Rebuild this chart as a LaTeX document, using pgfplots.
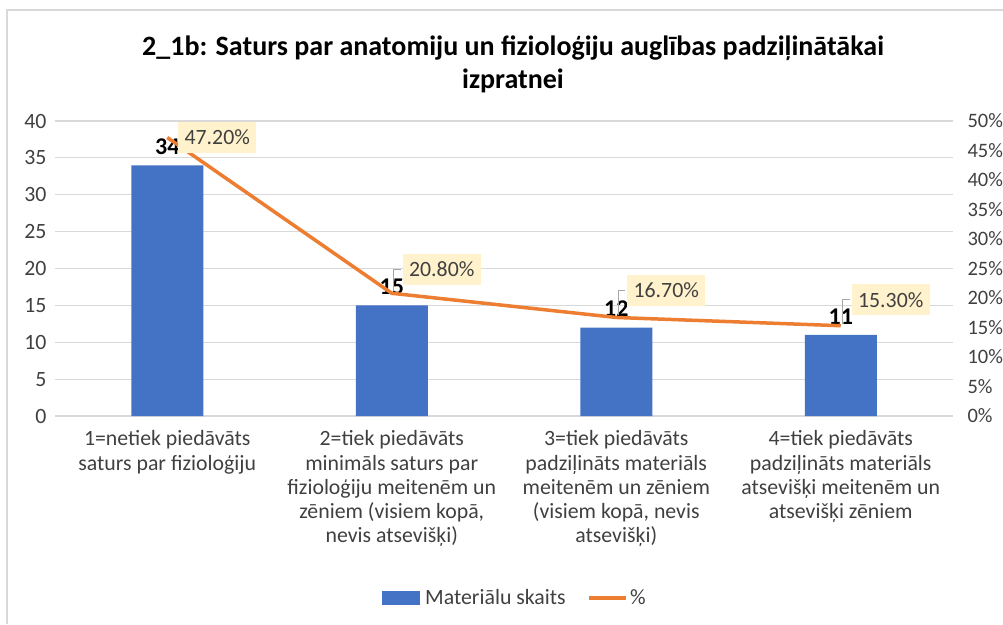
\documentclass[border=0pt]{standalone}
\usepackage{pgfplots}
\pgfplotsset{compat=1.18}
\usepackage{fontspec}
\setmainfont{Carlito}

\definecolor{barblue}{HTML}{4472C4}
\definecolor{lineorange}{HTML}{ED7D31}
\definecolor{gridgray}{HTML}{D9D9D9}
\definecolor{labelgray}{HTML}{404040}
\definecolor{boxyellow}{HTML}{FFF2CC}
\definecolor{leadergray}{HTML}{A6A6A6}

\newcommand{\lbl}{\fontsize{21.8}{24.2}\selectfont}

\begin{document}
\begin{tikzpicture}[x=1pt,y=1pt]
\useasboundingbox (0pt,0pt) rectangle (1003pt,624pt);
% chart frame
\draw[gridgray, line width=1.2pt] (7pt,0pt) -- (7pt,614pt) -- (1003pt,614pt);

\node[font=\fontsize{28}{33}\selectfont\bfseries, align=center] at (513pt,560pt)
  {2\_1b: Saturs par anatomiju un fizioloģiju auglības padziļinātākai\\izpratnei};

% bars (left axis)
\begin{axis}[
    at={(55pt,208pt)}, anchor=south west,
    scale only axis, width=898pt, height=295pt,
    xmin=-0.5, xmax=3.5,
    ymin=0, ymax=40,
    ytick={0,5,...,40},
    xtick={0,1,2,3},
    xticklabels={
      {1=netiek piedāvāts\\saturs par fizioloģiju},
      {2=tiek piedāvāts\\minimāls saturs par\\fizioloģiju meitenēm un\\zēniem (visiem kopā,\\nevis atsevišķi)},
      {3=tiek piedāvāts\\padziļināts materiāls\\meitenēm un zēniem\\(visiem kopā, nevis\\atsevišķi)},
      {4=tiek piedāvāts\\padziļināts materiāls\\atsevišķi meitenēm un\\atsevišķi zēniem}},
    xticklabel style={align=center, font=\lbl, text=labelgray, yshift=-7pt},
    yticklabel style={font=\lbl, text=labelgray, xshift=-5pt},
    /pgf/number format/assume math mode=true,
    ymajorgrids, grid style={draw=gridgray, line width=1.2pt},
    axis line style={draw=none},
    major tick style={draw=none},
    ybar, bar width=72pt,
    clip=false,
]
\addplot[fill=barblue, draw=none,
    nodes near coords,
    every node near coord/.append style={font=\fontsize{24}{28}\selectfont\bfseries,
        text=black, anchor=south, yshift=7pt}]
    coordinates {(0,34) (1,15) (2,12) (3,11)};
\end{axis}

% percentage line (right axis)
\begin{axis}[
    at={(55pt,208pt)}, anchor=south west,
    scale only axis, width=898pt, height=295pt,
    xmin=-0.5, xmax=3.5,
    ymin=0, ymax=50,
    ytick={0,5,...,50},
    yticklabel={\pgfmathprintnumber{\tick}\%},
    yticklabel style={font=\fontsize{20.5}{24}\selectfont, text=labelgray, xshift=11pt},
    /pgf/number format/assume math mode=true,
    axis y line*=right,
    hide x axis,
    axis line style={draw=none},
    major tick style={draw=none},
    clip=false,
    legend columns=2,
    legend style={at={(0.512,-0.617)}, anchor=center, draw=none, fill=none,
        font=\lbl, text=labelgray,
        /tikz/every even column/.append style={column sep=20pt}},
]
\addlegendimage{legend image code/.code={\fill[barblue] (0pt,-6pt) rectangle (37pt,7pt);}}
\addlegendentry{\hspace{4pt}Materiālu skaits}
\addplot[lineorange, line width=3.5pt, no markers,
    legend image code/.code={\draw[lineorange, line width=3.5pt] (0pt,0pt) -- (37pt,0pt);},
    visualization depends on={value \thisrow{dy} \as \dy},
    visualization depends on={value \thisrow{lx} \as \lx},
    visualization depends on={value \thisrow{vy} \as \vy},
    nodes near coords={\pgfmathprintnumber[fixed,fixed zerofill,precision=2]{\pgfplotspointmeta}\%},
    every node near coord/.append style={font=\lbl, text=labelgray, fill=boxyellow,
        anchor=center, xshift=50pt, yshift=\dy pt, inner xsep=6.5pt,
        minimum height=31pt,
        append after command={\pgfextra{\draw[leadergray, line width=1pt]
          (\tikzlastnode.west) -- ++(-\lx pt,0pt) -- ++(0pt,\vy pt);}}}]
    table {
x  y     dy  lx  vy
0  47.2  0   0   0
1  20.8  24  7   -22
2  16.7  27  7   -25
3  15.3  26  7   -24
};
\addlegendentry{\%}
\end{axis}
\end{tikzpicture}
\end{document}
